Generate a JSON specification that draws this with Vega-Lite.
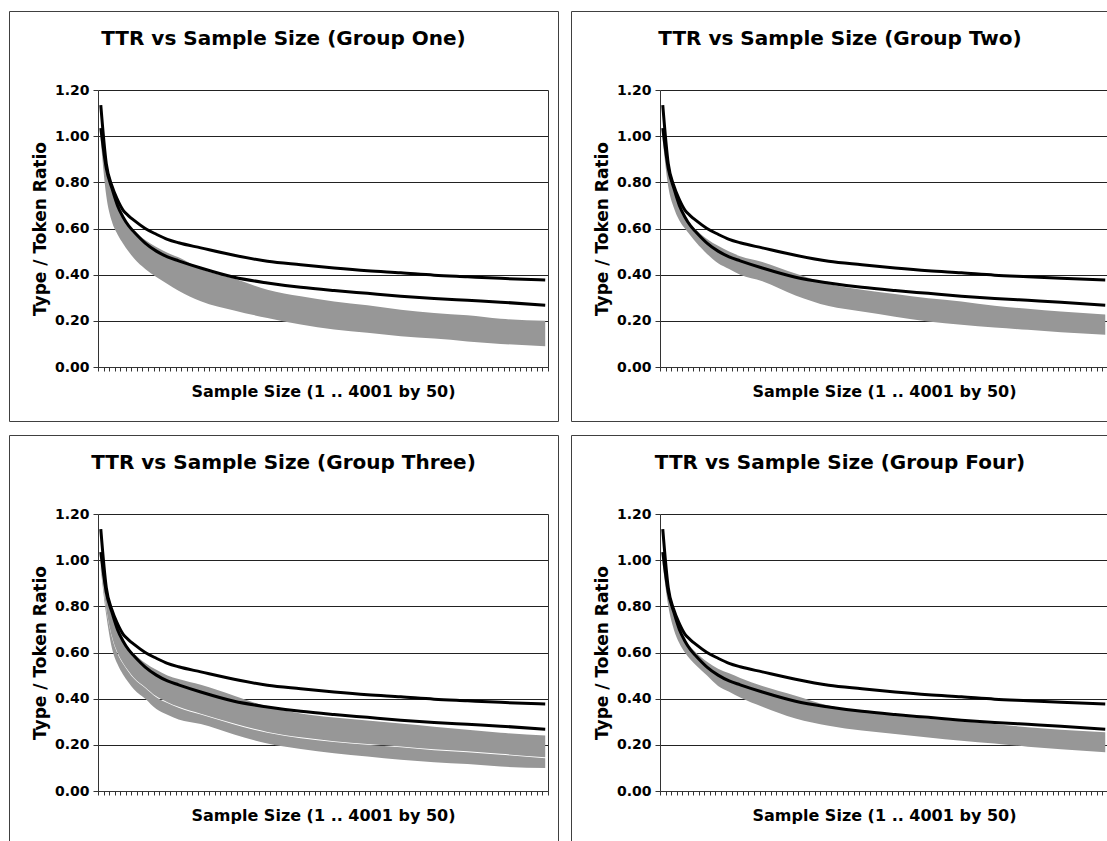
{
  "$schema": "https://vega.github.io/schema/vega-lite/v6.json",
  "padding": {"left": 8, "top": 10, "right": 0, "bottom": 0},
  "background": "white",
  "config": {
    "font": "DejaVu Sans",
    "view": {"stroke": "#404040", "strokeWidth": 1},
    "title": {"font": "DejaVu Sans", "fontSize": 20, "fontWeight": "bold", "color": "#000", "anchor": "middle", "offset": -38},
    "axis": {"labelFont": "DejaVu Sans", "titleFont": "DejaVu Sans", "labelColor": "#000", "titleColor": "#000", "domainColor": "#333", "tickColor": "#333", "gridColor": "#222", "gridOpacity": 1}
  },
  "datasets": {
    "black": [
      {"line": "A", "sample": 1, "ttr": 1.135}, {"line": "A", "sample": 51, "ttr": 0.88}, {"line": "A", "sample": 101, "ttr": 0.785}, {"line": "A", "sample": 151, "ttr": 0.725}, {"line": "A", "sample": 201, "ttr": 0.68}, {"line": "A", "sample": 251, "ttr": 0.655}, {"line": "A", "sample": 301, "ttr": 0.635}, {"line": "A", "sample": 401, "ttr": 0.6}, {"line": "A", "sample": 501, "ttr": 0.575}, {"line": "A", "sample": 601, "ttr": 0.553}, {"line": "A", "sample": 701, "ttr": 0.538}, {"line": "A", "sample": 901, "ttr": 0.516}, {"line": "A", "sample": 1201, "ttr": 0.484}, {"line": "A", "sample": 1501, "ttr": 0.458}, {"line": "A", "sample": 1801, "ttr": 0.443}, {"line": "A", "sample": 2101, "ttr": 0.429}, {"line": "A", "sample": 2401, "ttr": 0.417}, {"line": "A", "sample": 2701, "ttr": 0.408}, {"line": "A", "sample": 3001, "ttr": 0.398}, {"line": "A", "sample": 3301, "ttr": 0.391}, {"line": "A", "sample": 3601, "ttr": 0.384}, {"line": "A", "sample": 4001, "ttr": 0.377},
      {"line": "B", "sample": 1, "ttr": 1.035}, {"line": "B", "sample": 51, "ttr": 0.86}, {"line": "B", "sample": 101, "ttr": 0.775}, {"line": "B", "sample": 151, "ttr": 0.7}, {"line": "B", "sample": 201, "ttr": 0.65}, {"line": "B", "sample": 251, "ttr": 0.612}, {"line": "B", "sample": 301, "ttr": 0.585}, {"line": "B", "sample": 401, "ttr": 0.537}, {"line": "B", "sample": 501, "ttr": 0.502}, {"line": "B", "sample": 601, "ttr": 0.477}, {"line": "B", "sample": 701, "ttr": 0.46}, {"line": "B", "sample": 901, "ttr": 0.429}, {"line": "B", "sample": 1201, "ttr": 0.389}, {"line": "B", "sample": 1501, "ttr": 0.364}, {"line": "B", "sample": 1801, "ttr": 0.345}, {"line": "B", "sample": 2101, "ttr": 0.331}, {"line": "B", "sample": 2401, "ttr": 0.319}, {"line": "B", "sample": 2701, "ttr": 0.307}, {"line": "B", "sample": 3001, "ttr": 0.297}, {"line": "B", "sample": 3301, "ttr": 0.289}, {"line": "B", "sample": 3601, "ttr": 0.281}, {"line": "B", "sample": 4001, "ttr": 0.268}
    ],
    "bands": [
      {"group": "One", "part": "a", "sample": 1, "lo": 0.98, "hi": 1.03}, {"group": "One", "part": "a", "sample": 51, "lo": 0.74, "hi": 0.85}, {"group": "One", "part": "a", "sample": 101, "lo": 0.63, "hi": 0.77}, {"group": "One", "part": "a", "sample": 151, "lo": 0.575, "hi": 0.7}, {"group": "One", "part": "a", "sample": 201, "lo": 0.535, "hi": 0.65}, {"group": "One", "part": "a", "sample": 251, "lo": 0.5, "hi": 0.615}, {"group": "One", "part": "a", "sample": 301, "lo": 0.47, "hi": 0.59}, {"group": "One", "part": "a", "sample": 401, "lo": 0.425, "hi": 0.55}, {"group": "One", "part": "a", "sample": 501, "lo": 0.39, "hi": 0.52}, {"group": "One", "part": "a", "sample": 601, "lo": 0.36, "hi": 0.495}, {"group": "One", "part": "a", "sample": 701, "lo": 0.33, "hi": 0.475}, {"group": "One", "part": "a", "sample": 901, "lo": 0.285, "hi": 0.425}, {"group": "One", "part": "a", "sample": 1201, "lo": 0.245, "hi": 0.383}, {"group": "One", "part": "a", "sample": 1501, "lo": 0.212, "hi": 0.335}, {"group": "One", "part": "a", "sample": 1801, "lo": 0.184, "hi": 0.306}, {"group": "One", "part": "a", "sample": 2101, "lo": 0.162, "hi": 0.284}, {"group": "One", "part": "a", "sample": 2401, "lo": 0.148, "hi": 0.267}, {"group": "One", "part": "a", "sample": 2701, "lo": 0.133, "hi": 0.248}, {"group": "One", "part": "a", "sample": 3001, "lo": 0.123, "hi": 0.234}, {"group": "One", "part": "a", "sample": 3301, "lo": 0.111, "hi": 0.224}, {"group": "One", "part": "a", "sample": 3601, "lo": 0.1, "hi": 0.209}, {"group": "One", "part": "a", "sample": 4001, "lo": 0.09, "hi": 0.2},
      {"group": "Two", "part": "a", "sample": 1, "lo": 0.98, "hi": 1.03}, {"group": "Two", "part": "a", "sample": 51, "lo": 0.78, "hi": 0.86}, {"group": "Two", "part": "a", "sample": 101, "lo": 0.69, "hi": 0.77}, {"group": "Two", "part": "a", "sample": 151, "lo": 0.635, "hi": 0.7}, {"group": "Two", "part": "a", "sample": 201, "lo": 0.6, "hi": 0.655}, {"group": "Two", "part": "a", "sample": 251, "lo": 0.57, "hi": 0.62}, {"group": "Two", "part": "a", "sample": 301, "lo": 0.54, "hi": 0.595}, {"group": "Two", "part": "a", "sample": 401, "lo": 0.49, "hi": 0.555}, {"group": "Two", "part": "a", "sample": 501, "lo": 0.45, "hi": 0.525}, {"group": "Two", "part": "a", "sample": 601, "lo": 0.425, "hi": 0.5}, {"group": "Two", "part": "a", "sample": 701, "lo": 0.4, "hi": 0.48}, {"group": "Two", "part": "a", "sample": 901, "lo": 0.372, "hi": 0.455}, {"group": "Two", "part": "a", "sample": 1201, "lo": 0.31, "hi": 0.405}, {"group": "Two", "part": "a", "sample": 1501, "lo": 0.264, "hi": 0.36}, {"group": "Two", "part": "a", "sample": 1801, "lo": 0.24, "hi": 0.335}, {"group": "Two", "part": "a", "sample": 2101, "lo": 0.218, "hi": 0.316}, {"group": "Two", "part": "a", "sample": 2401, "lo": 0.197, "hi": 0.298}, {"group": "Two", "part": "a", "sample": 2701, "lo": 0.183, "hi": 0.284}, {"group": "Two", "part": "a", "sample": 3001, "lo": 0.171, "hi": 0.265}, {"group": "Two", "part": "a", "sample": 3301, "lo": 0.161, "hi": 0.252}, {"group": "Two", "part": "a", "sample": 3601, "lo": 0.151, "hi": 0.24}, {"group": "Two", "part": "a", "sample": 4001, "lo": 0.14, "hi": 0.227},
      {"group": "Three", "part": "a", "sample": 1, "lo": 0.99, "hi": 1.03}, {"group": "Three", "part": "a", "sample": 51, "lo": 0.79, "hi": 0.86}, {"group": "Three", "part": "a", "sample": 101, "lo": 0.67, "hi": 0.76}, {"group": "Three", "part": "a", "sample": 151, "lo": 0.6, "hi": 0.7}, {"group": "Three", "part": "a", "sample": 201, "lo": 0.555, "hi": 0.655}, {"group": "Three", "part": "a", "sample": 251, "lo": 0.52, "hi": 0.62}, {"group": "Three", "part": "a", "sample": 301, "lo": 0.49, "hi": 0.595}, {"group": "Three", "part": "a", "sample": 401, "lo": 0.45, "hi": 0.555}, {"group": "Three", "part": "a", "sample": 501, "lo": 0.41, "hi": 0.525}, {"group": "Three", "part": "a", "sample": 601, "lo": 0.385, "hi": 0.5}, {"group": "Three", "part": "a", "sample": 701, "lo": 0.365, "hi": 0.485}, {"group": "Three", "part": "a", "sample": 901, "lo": 0.335, "hi": 0.46}, {"group": "Three", "part": "a", "sample": 1201, "lo": 0.292, "hi": 0.413}, {"group": "Three", "part": "a", "sample": 1501, "lo": 0.256, "hi": 0.365}, {"group": "Three", "part": "a", "sample": 1801, "lo": 0.233, "hi": 0.336}, {"group": "Three", "part": "a", "sample": 2101, "lo": 0.216, "hi": 0.318}, {"group": "Three", "part": "a", "sample": 2401, "lo": 0.204, "hi": 0.305}, {"group": "Three", "part": "a", "sample": 2701, "lo": 0.193, "hi": 0.292}, {"group": "Three", "part": "a", "sample": 3001, "lo": 0.181, "hi": 0.278}, {"group": "Three", "part": "a", "sample": 3301, "lo": 0.172, "hi": 0.265}, {"group": "Three", "part": "a", "sample": 3601, "lo": 0.161, "hi": 0.252}, {"group": "Three", "part": "a", "sample": 4001, "lo": 0.146, "hi": 0.24},
      {"group": "Three", "part": "b", "sample": 1, "lo": 0.96, "hi": 0.986}, {"group": "Three", "part": "b", "sample": 51, "lo": 0.76, "hi": 0.786}, {"group": "Three", "part": "b", "sample": 101, "lo": 0.62, "hi": 0.666}, {"group": "Three", "part": "b", "sample": 151, "lo": 0.55, "hi": 0.596}, {"group": "Three", "part": "b", "sample": 201, "lo": 0.505, "hi": 0.551}, {"group": "Three", "part": "b", "sample": 251, "lo": 0.47, "hi": 0.516}, {"group": "Three", "part": "b", "sample": 301, "lo": 0.44, "hi": 0.486}, {"group": "Three", "part": "b", "sample": 401, "lo": 0.4, "hi": 0.446}, {"group": "Three", "part": "b", "sample": 501, "lo": 0.355, "hi": 0.406}, {"group": "Three", "part": "b", "sample": 601, "lo": 0.33, "hi": 0.381}, {"group": "Three", "part": "b", "sample": 701, "lo": 0.31, "hi": 0.361}, {"group": "Three", "part": "b", "sample": 901, "lo": 0.29, "hi": 0.331}, {"group": "Three", "part": "b", "sample": 1201, "lo": 0.245, "hi": 0.288}, {"group": "Three", "part": "b", "sample": 1501, "lo": 0.206, "hi": 0.252}, {"group": "Three", "part": "b", "sample": 1801, "lo": 0.182, "hi": 0.229}, {"group": "Three", "part": "b", "sample": 2101, "lo": 0.163, "hi": 0.212}, {"group": "Three", "part": "b", "sample": 2401, "lo": 0.149, "hi": 0.2}, {"group": "Three", "part": "b", "sample": 2701, "lo": 0.135, "hi": 0.189}, {"group": "Three", "part": "b", "sample": 3001, "lo": 0.125, "hi": 0.177}, {"group": "Three", "part": "b", "sample": 3301, "lo": 0.117, "hi": 0.168}, {"group": "Three", "part": "b", "sample": 3601, "lo": 0.106, "hi": 0.157}, {"group": "Three", "part": "b", "sample": 4001, "lo": 0.1, "hi": 0.142},
      {"group": "Four", "part": "a", "sample": 1, "lo": 0.98, "hi": 1.03}, {"group": "Four", "part": "a", "sample": 51, "lo": 0.8, "hi": 0.86}, {"group": "Four", "part": "a", "sample": 101, "lo": 0.7, "hi": 0.77}, {"group": "Four", "part": "a", "sample": 151, "lo": 0.64, "hi": 0.7}, {"group": "Four", "part": "a", "sample": 201, "lo": 0.6, "hi": 0.655}, {"group": "Four", "part": "a", "sample": 251, "lo": 0.57, "hi": 0.625}, {"group": "Four", "part": "a", "sample": 301, "lo": 0.545, "hi": 0.6}, {"group": "Four", "part": "a", "sample": 401, "lo": 0.5, "hi": 0.56}, {"group": "Four", "part": "a", "sample": 501, "lo": 0.455, "hi": 0.53}, {"group": "Four", "part": "a", "sample": 601, "lo": 0.43, "hi": 0.51}, {"group": "Four", "part": "a", "sample": 701, "lo": 0.405, "hi": 0.49}, {"group": "Four", "part": "a", "sample": 901, "lo": 0.365, "hi": 0.455}, {"group": "Four", "part": "a", "sample": 1201, "lo": 0.314, "hi": 0.413}, {"group": "Four", "part": "a", "sample": 1501, "lo": 0.283, "hi": 0.37}, {"group": "Four", "part": "a", "sample": 1801, "lo": 0.262, "hi": 0.345}, {"group": "Four", "part": "a", "sample": 2101, "lo": 0.247, "hi": 0.327}, {"group": "Four", "part": "a", "sample": 2401, "lo": 0.232, "hi": 0.313}, {"group": "Four", "part": "a", "sample": 2701, "lo": 0.218, "hi": 0.302}, {"group": "Four", "part": "a", "sample": 3001, "lo": 0.206, "hi": 0.29}, {"group": "Four", "part": "a", "sample": 3301, "lo": 0.192, "hi": 0.276}, {"group": "Four", "part": "a", "sample": 3601, "lo": 0.181, "hi": 0.265}, {"group": "Four", "part": "a", "sample": 4001, "lo": 0.168, "hi": 0.255}
    ]
  },
  "spacing": 12,
  "vconcat": [
    {
      "spacing": 11,
      "hconcat": [
        {
          "width": 549, "height": 410,
          "title": "TTR vs Sample Size (Group One)",
          "encoding": {"x": {"field": "sample", "type": "quantitative", "scale": {"domain": [-24, 4026], "range": [89, 539], "nice": false, "zero": false},
            "axis": {"orient": "bottom", "offset": -54, "values": [-24,26,76,126,176,226,276,326,376,426,476,526,576,626,676,726,776,826,876,926,976,1026,1076,1126,1176,1226,1276,1326,1376,1426,1476,1526,1576,1626,1676,1726,1776,1826,1876,1926,1976,2026,2076,2126,2176,2226,2276,2326,2376,2426,2476,2526,2576,2626,2676,2726,2776,2826,2876,2926,2976,3026,3076,3126,3176,3226,3276,3326,3376,3426,3476,3526,3576,3626,3676,3726,3776,3826,3876,3926,3976,4026], "labels": false, "grid": false, "tickSize": 4, "title": "Sample Size (1 .. 4001 by 50)", "titleFontSize": 16, "titleFontWeight": "bold", "titlePadding": 12}}},
          "layer": [
            {"data": {"name": "bands"}, "transform": [{"filter": "datum.group === 'One'"}],
             "mark": {"type": "area", "color": "#979797", "opacity": 1, "interpolate": "monotone"},
             "encoding": {"y": {"field": "lo", "type": "quantitative", "scale": {"domain": [0, 1.2], "range": [356, 79], "nice": false},
               "axis": {"orient": "left", "offset": -89, "values": [0, 0.2, 0.4, 0.6, 0.8, 1.0, 1.2], "format": ".2f", "grid": true, "gridWidth": 1, "tickSize": 5, "labelPadding": 4, "labelFontSize": 14, "labelFontWeight": "bold", "title": "Type / Token Ratio", "titleFontSize": 17, "titleFontWeight": "bold", "titlePadding": 5}},
               "y2": {"field": "hi"}, "detail": {"field": "part"}}},
            {"data": {"name": "black"},
             "mark": {"type": "line", "color": "#000", "strokeWidth": 3, "interpolate": "monotone"},
             "encoding": {"y": {"field": "ttr", "type": "quantitative", "scale": {"domain": [0, 1.2], "range": [356, 79], "nice": false},
               "axis": {"orient": "right", "offset": -10, "labels": false, "ticks": false, "grid": false, "title": null}},
               "detail": {"field": "line"}}}
          ],
          "resolve": {"axis": {"y": "independent"}}
        },
        {
          "width": 538, "height": 410,
          "title": "TTR vs Sample Size (Group Two)",
          "encoding": {"x": {"field": "sample", "type": "quantitative", "scale": {"domain": [-24, 4026], "range": [89, 537], "nice": false, "zero": false},
            "axis": {"orient": "bottom", "offset": -54, "values": [-24,26,76,126,176,226,276,326,376,426,476,526,576,626,676,726,776,826,876,926,976,1026,1076,1126,1176,1226,1276,1326,1376,1426,1476,1526,1576,1626,1676,1726,1776,1826,1876,1926,1976,2026,2076,2126,2176,2226,2276,2326,2376,2426,2476,2526,2576,2626,2676,2726,2776,2826,2876,2926,2976,3026,3076,3126,3176,3226,3276,3326,3376,3426,3476,3526,3576,3626,3676,3726,3776,3826,3876,3926,3976,4026], "labels": false, "grid": false, "tickSize": 4, "title": "Sample Size (1 .. 4001 by 50)", "titleFontSize": 16, "titleFontWeight": "bold", "titlePadding": 12}}},
          "layer": [
            {"data": {"name": "bands"}, "transform": [{"filter": "datum.group === 'Two'"}],
             "mark": {"type": "area", "color": "#979797", "opacity": 1, "interpolate": "monotone"},
             "encoding": {"y": {"field": "lo", "type": "quantitative", "scale": {"domain": [0, 1.2], "range": [356, 79], "nice": false},
               "axis": {"orient": "left", "offset": -89, "values": [0, 0.2, 0.4, 0.6, 0.8, 1.0, 1.2], "format": ".2f", "grid": true, "gridWidth": 1, "tickSize": 5, "labelPadding": 4, "labelFontSize": 14, "labelFontWeight": "bold", "title": "Type / Token Ratio", "titleFontSize": 17, "titleFontWeight": "bold", "titlePadding": 5}},
               "y2": {"field": "hi"}, "detail": {"field": "part"}}},
            {"data": {"name": "black"},
             "mark": {"type": "line", "color": "#000", "strokeWidth": 3, "interpolate": "monotone"},
             "encoding": {"y": {"field": "ttr", "type": "quantitative", "scale": {"domain": [0, 1.2], "range": [356, 79], "nice": false},
               "axis": {"orient": "right", "offset": 0, "labels": false, "ticks": false, "grid": false, "title": null}},
               "detail": {"field": "line"}}}
          ],
          "resolve": {"axis": {"y": "independent"}}
        }
      ]
    },
    {
      "spacing": 11,
      "hconcat": [
        {
          "width": 549, "height": 408,
          "title": "TTR vs Sample Size (Group Three)",
          "encoding": {"x": {"field": "sample", "type": "quantitative", "scale": {"domain": [-24, 4026], "range": [89, 539], "nice": false, "zero": false},
            "axis": {"orient": "bottom", "offset": -52, "values": [-24,26,76,126,176,226,276,326,376,426,476,526,576,626,676,726,776,826,876,926,976,1026,1076,1126,1176,1226,1276,1326,1376,1426,1476,1526,1576,1626,1676,1726,1776,1826,1876,1926,1976,2026,2076,2126,2176,2226,2276,2326,2376,2426,2476,2526,2576,2626,2676,2726,2776,2826,2876,2926,2976,3026,3076,3126,3176,3226,3276,3326,3376,3426,3476,3526,3576,3626,3676,3726,3776,3826,3876,3926,3976,4026], "labels": false, "grid": false, "tickSize": 4, "title": "Sample Size (1 .. 4001 by 50)", "titleFontSize": 16, "titleFontWeight": "bold", "titlePadding": 12}}},
          "layer": [
            {"data": {"name": "bands"}, "transform": [{"filter": "datum.group === 'Three'"}],
             "mark": {"type": "area", "color": "#979797", "opacity": 1, "interpolate": "monotone"},
             "encoding": {"y": {"field": "lo", "type": "quantitative", "scale": {"domain": [0, 1.2], "range": [356, 79], "nice": false},
               "axis": {"orient": "left", "offset": -89, "values": [0, 0.2, 0.4, 0.6, 0.8, 1.0, 1.2], "format": ".2f", "grid": true, "gridWidth": 1, "tickSize": 5, "labelPadding": 4, "labelFontSize": 14, "labelFontWeight": "bold", "title": "Type / Token Ratio", "titleFontSize": 17, "titleFontWeight": "bold", "titlePadding": 5}},
               "y2": {"field": "hi"}, "detail": {"field": "part"}}},
            {"data": {"name": "black"},
             "mark": {"type": "line", "color": "#000", "strokeWidth": 3, "interpolate": "monotone"},
             "encoding": {"y": {"field": "ttr", "type": "quantitative", "scale": {"domain": [0, 1.2], "range": [356, 79], "nice": false},
               "axis": {"orient": "right", "offset": -10, "labels": false, "ticks": false, "grid": false, "title": null}},
               "detail": {"field": "line"}}}
          ],
          "resolve": {"axis": {"y": "independent"}}
        },
        {
          "width": 538, "height": 408,
          "title": "TTR vs Sample Size (Group Four)",
          "encoding": {"x": {"field": "sample", "type": "quantitative", "scale": {"domain": [-24, 4026], "range": [89, 537], "nice": false, "zero": false},
            "axis": {"orient": "bottom", "offset": -52, "values": [-24,26,76,126,176,226,276,326,376,426,476,526,576,626,676,726,776,826,876,926,976,1026,1076,1126,1176,1226,1276,1326,1376,1426,1476,1526,1576,1626,1676,1726,1776,1826,1876,1926,1976,2026,2076,2126,2176,2226,2276,2326,2376,2426,2476,2526,2576,2626,2676,2726,2776,2826,2876,2926,2976,3026,3076,3126,3176,3226,3276,3326,3376,3426,3476,3526,3576,3626,3676,3726,3776,3826,3876,3926,3976,4026], "labels": false, "grid": false, "tickSize": 4, "title": "Sample Size (1 .. 4001 by 50)", "titleFontSize": 16, "titleFontWeight": "bold", "titlePadding": 12}}},
          "layer": [
            {"data": {"name": "bands"}, "transform": [{"filter": "datum.group === 'Four'"}],
             "mark": {"type": "area", "color": "#979797", "opacity": 1, "interpolate": "monotone"},
             "encoding": {"y": {"field": "lo", "type": "quantitative", "scale": {"domain": [0, 1.2], "range": [356, 79], "nice": false},
               "axis": {"orient": "left", "offset": -89, "values": [0, 0.2, 0.4, 0.6, 0.8, 1.0, 1.2], "format": ".2f", "grid": true, "gridWidth": 1, "tickSize": 5, "labelPadding": 4, "labelFontSize": 14, "labelFontWeight": "bold", "title": "Type / Token Ratio", "titleFontSize": 17, "titleFontWeight": "bold", "titlePadding": 5}},
               "y2": {"field": "hi"}, "detail": {"field": "part"}}},
            {"data": {"name": "black"},
             "mark": {"type": "line", "color": "#000", "strokeWidth": 3, "interpolate": "monotone"},
             "encoding": {"y": {"field": "ttr", "type": "quantitative", "scale": {"domain": [0, 1.2], "range": [356, 79], "nice": false},
               "axis": {"orient": "right", "offset": 0, "labels": false, "ticks": false, "grid": false, "title": null}},
               "detail": {"field": "line"}}}
          ],
          "resolve": {"axis": {"y": "independent"}}
        }
      ]
    }
  ]
}
